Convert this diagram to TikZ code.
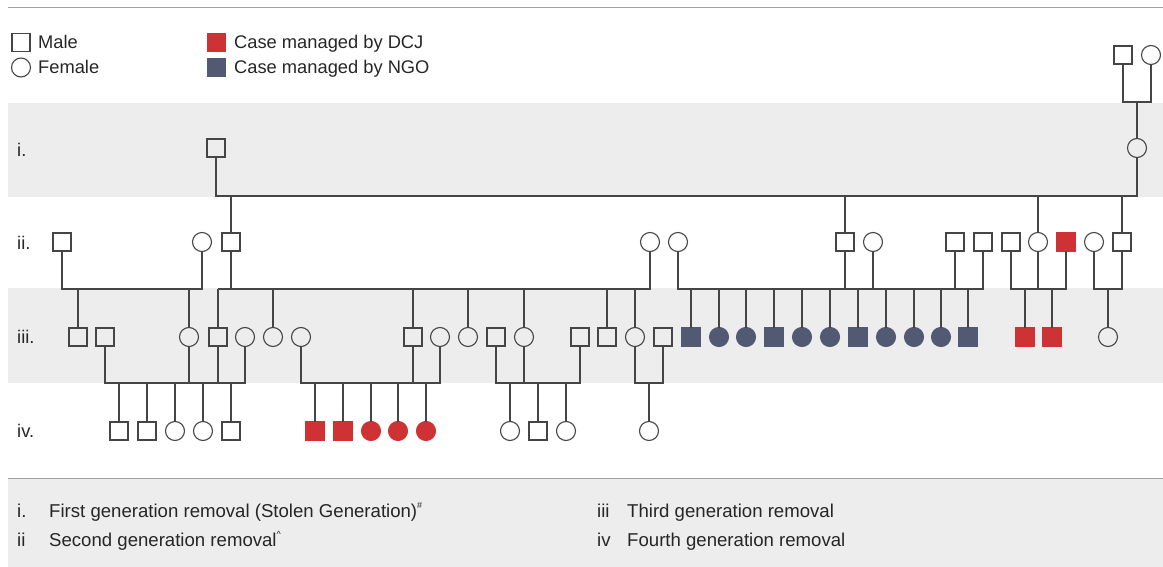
\documentclass[tikz,border=0pt]{standalone}
\usepackage{fontspec}
\setmainfont{Liberation Sans}
\definecolor{dcj}{HTML}{CE3234}
\definecolor{ngo}{HTML}{525A73}
\definecolor{band}{HTML}{ECEDEC}
\definecolor{linec}{HTML}{454545}
\definecolor{rule}{HTML}{A0A0A0}
\tikzset{
  base/.style={inner sep=0pt, outer sep=0pt, line width=1.1pt},
  ml/.style={base, rectangle, draw=linec, minimum size=18pt},
  fl/.style={base, circle, draw=linec, minimum size=19pt},
  mdcj/.style={base, rectangle, draw=dcj, fill=dcj, minimum size=18pt},
  fdcj/.style={base, circle, draw=dcj, fill=dcj, minimum size=19pt},
  mngo/.style={base, rectangle, draw=ngo, fill=ngo, minimum size=18pt},
  fngo/.style={base, circle, draw=ngo, fill=ngo, minimum size=19pt},
  conn/.style={draw=linec, line width=1.2pt},
  txt/.style={inner sep=0pt, anchor=base west, font=\fontsize{18.3}{21}\selectfont, text=black!85},
  ktxt/.style={txt, font=\fontsize{18.6}{21}\selectfont},
}
\begin{document}
\begin{tikzpicture}[x=1pt,y=-1pt]
\useasboundingbox (0,0) rectangle (1163,567);
% bands and rules
\fill[band] (8,103) rectangle (1163,197);
\fill[band] (8,288) rectangle (1163,383);
\fill[band] (8,478) rectangle (1163,567);
\draw[rule, line width=1pt] (8,8) -- (1163,8);
\draw[rule, line width=1pt] (8,478) -- (1163,478);
% top legend
\node[ml] (lgm) at (21,42.5) {};
\node[txt] (lgmt) at (38,49) {Male};
\node[fl] (lgf) at (21,67.5) {};
\node[txt] (lgft) at (38,74) {Female};
\node[mdcj] (lgd) at (216.5,42.5) {};
\node[txt] (lgdt) at (234,49) {Case managed by DCJ};
\node[mngo] (lgn) at (216.5,67.5) {};
\node[txt] (lgnt) at (234,74) {Case managed by NGO};
% generation labels
\node[txt] (gi) at (17,157) {i.};
\node[txt] (gii) at (17,250) {ii.};
\node[txt] (giii) at (17,343) {iii.};
\node[txt] (giv) at (17,437) {iv.};
% level coordinates
\coordinate (L0) at (0,102);
\coordinate (L1) at (0,196);
\coordinate (L2) at (0,289);
\coordinate (L3) at (0,383);
% top couple and generation i
\node[ml] (T1) at (1123,55) {};
\node[fl] (T2) at (1151,55) {};
\node[ml] (I1) at (216,148) {};
\node[fl] (I2) at (1137,148) {};
% generation ii
\node[ml] (A1) at (62,242) {};
\node[fl] (A2) at (202,242) {};
\node[ml] (A3) at (231,242) {};
\node[fl] (A4) at (650,242) {};
\node[fl] (A5) at (678,242) {};
\node[ml] (A6) at (845,242) {};
\node[fl] (A7) at (873,242) {};
\node[ml] (A8) at (955,242) {};
\node[ml] (A9) at (983,242) {};
\node[ml] (A10) at (1011,242) {};
\node[fl] (A11) at (1038,242) {};
\node[mdcj] (A12) at (1066,242) {};
\node[fl] (A13) at (1094,242) {};
\node[ml] (A14) at (1122,242) {};
% generation iii
\node[ml] (B1) at (78,337) {};
\node[ml] (B2) at (105,337) {};
\node[fl] (B3) at (189,337) {};
\node[ml] (B4) at (218,337) {};
\node[fl] (B5) at (245,337) {};
\node[fl] (B6) at (273,337) {};
\node[fl] (B7) at (301,337) {};
\node[ml] (B8) at (413,337) {};
\node[fl] (B9) at (440,337) {};
\node[fl] (B10) at (468,337) {};
\node[ml] (B11) at (496,337) {};
\node[fl] (B12) at (524,337) {};
\node[ml] (B13) at (580,337) {};
\node[ml] (B14) at (607,337) {};
\node[fl] (B15) at (635,337) {};
\node[ml] (B16) at (663,337) {};
\node[mngo] (N1) at (691,337) {};
\node[fngo] (N2) at (719,337) {};
\node[fngo] (N3) at (746,337) {};
\node[mngo] (N4) at (774,337) {};
\node[fngo] (N5) at (802,337) {};
\node[fngo] (N6) at (830,337) {};
\node[mngo] (N7) at (858,337) {};
\node[fngo] (N8) at (886,337) {};
\node[fngo] (N9) at (914,337) {};
\node[fngo] (N10) at (941,337) {};
\node[mngo] (N11) at (968,337) {};
\node[mdcj] (R1) at (1025,337) {};
\node[mdcj] (R2) at (1052,337) {};
\node[fl] (B17) at (1108,337) {};
% generation iv
\node[ml] (C1) at (119,431) {};
\node[ml] (C2) at (147,431) {};
\node[fl] (C3) at (175,431) {};
\node[fl] (C4) at (203,431) {};
\node[ml] (C5) at (231,431) {};
\node[mdcj] (D1) at (315,431) {};
\node[mdcj] (D2) at (343,431) {};
\node[fdcj] (D3) at (371,431) {};
\node[fdcj] (D4) at (398,431) {};
\node[fdcj] (D5) at (426,431) {};
\node[fl] (E1) at (510,431) {};
\node[ml] (E2) at (538,431) {};
\node[fl] (E3) at (566,431) {};
\node[fl] (F1) at (649,431) {};
% connectors: top couple -> i
\draw[conn] (T1.south) -- (T1.south |- L0) -- (T2.south |- L0) -- (T2.south);
\draw[conn] (I2.north) -- (I2.north |- L0);
\draw[conn] (I1.south) -- (I1.south |- L1) -- (I2.south |- L1) -- (I2.south);
\foreach \n in {A3,A6,A11,A14} \draw[conn] (\n.north) -- (\n.north |- L1);
% ii -> iii
\draw[conn] (A1.south) -- (A1.south |- L2) -- (A2.south |- L2) -- (A2.south);
\draw[conn] (A3.south) -- (A3.south |- L2);
\draw[conn] (B4.north |- L2) -- (A4.south |- L2) -- (A4.south);
\draw[conn] (A5.south) -- (A5.south |- L2) -- (A9.south |- L2) -- (A9.south);
\foreach \n in {A6,A7,A8} \draw[conn] (\n.south) -- (\n.south |- L2);
\draw[conn] (A10.south) -- (A10.south |- L2) -- (A12.south |- L2) -- (A12.south);
\draw[conn] (A11.south) -- (A11.south |- L2);
\draw[conn] (A13.south) -- (A13.south |- L2) -- (A14.south |- L2) -- (A14.south);
\foreach \n in {B1,B3,B4,B6,B8,B10,B12,B14,B15,N1,N2,N3,N4,N5,N6,N7,N8,N9,N10,N11,R1,R2,B17}
  \draw[conn] (\n.north) -- (\n.north |- L2);
% iii -> iv
\draw[conn] (B2.south) -- (B2.south |- L3) -- (B5.south |- L3) -- (B5.south);
\foreach \n in {B3,B4} \draw[conn] (\n.south) -- (\n.south |- L3);
\draw[conn] (B7.south) -- (B7.south |- L3) -- (B9.south |- L3) -- (B9.south);
\draw[conn] (B8.south) -- (B8.south |- L3);
\draw[conn] (B11.south) -- (B11.south |- L3) -- (B13.south |- L3) -- (B13.south);
\draw[conn] (B12.south) -- (B12.south |- L3);
\draw[conn] (B15.south) -- (B15.south |- L3) -- (B16.south |- L3) -- (B16.south);
\foreach \n in {C1,C2,C3,C4,C5,D1,D2,D3,D4,D5,E1,E2,E3,F1}
  \draw[conn] (\n.north) -- (\n.north |- L3);
% bottom legend
\node[ktxt] (k1) at (17,517) {i.};
\node[ktxt] (k1t) at (49,517) {First generation removal (Stolen Generation)\raisebox{0.45em}{\fontsize{9}{10}\selectfont\#}};
\node[ktxt] (k2) at (17,546) {ii};
\node[ktxt] (k2t) at (49,546) {Second generation removal\raisebox{0.45em}{\fontsize{9}{10}\selectfont\textasciicircum}};
\node[ktxt] (k3) at (597,517) {iii};
\node[ktxt] (k3t) at (627,517) {Third generation removal};
\node[ktxt] (k4) at (597,546) {iv};
\node[ktxt] (k4t) at (627,546) {Fourth generation removal};
\end{tikzpicture}
\end{document}
